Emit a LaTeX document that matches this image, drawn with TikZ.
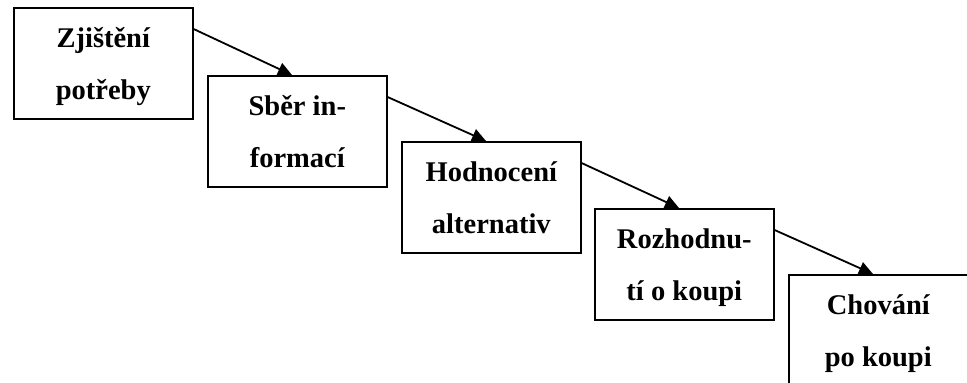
\documentclass[tikz,border=0pt]{standalone}
\usepackage{fontspec}
\setmainfont{Liberation Serif}
\usetikzlibrary{arrows.meta}

\begin{document}
\begin{tikzpicture}[
  x=1pt, y=-1pt,
  >={Triangle[length=14pt,width=13pt]},
  every node/.style={font=\bfseries\fontsize{28.5}{52}\selectfont},
  stage/.style={draw, line width=1.6pt, anchor=north west, align=center,
                minimum width=179pt, minimum height=111pt, inner sep=0pt,
                text height=75.5pt, text depth=2.5pt},
  flow/.style={->, line width=1.8pt}
]
  \useasboundingbox (0,0) rectangle (967,383);
  \clip (0,0) rectangle (967,383);
  \foreach \i/\x/\y/\lab in {1/13/7/{Zjištění\\potřeby},
                             2/207/75/{Sběr in-\\formací},
                             3/401/141/{Hodnocení\\alternativ},
                             4/594/208/{Rozhodnu-\\tí o koupi},
                             5/788/274/{Chování\\po koupi}} {
    \node[stage] (s\i) at (\x,\y) {\lab};
  }
  \foreach \a/\b in {1/2,2/3,3/4,4/5}
    \draw[flow] ([yshift=-22pt]s\a.north east) -- ([xshift=85pt]s\b.north west);
\end{tikzpicture}
\end{document}
